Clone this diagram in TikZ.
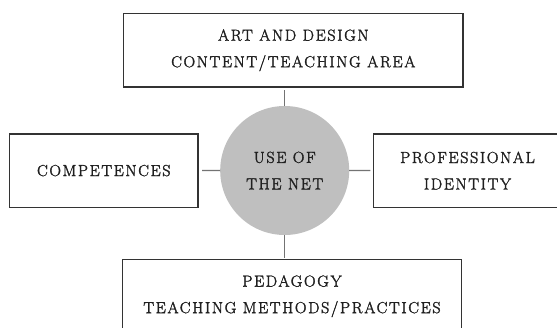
\documentclass[tikz,border=0pt]{standalone}
\usepackage{fontspec}
\newfontfamily\capsfont{Latin Modern Roman}[LetterSpace=10.5,FakeBold=2]
\begin{document}
\begin{tikzpicture}[x=1pt,y=-1pt,
  every node/.style={inner sep=0pt,outer sep=0pt},
  caption text/.style={font=\capsfont\fontsize{16}{26.5}\selectfont,
    align=center,text=black!88},
  topicbox/.style={rectangle,draw=black!80,line width=1.3pt,minimum height=73.5pt,caption text},
  widebox/.style={topicbox,minimum width=339.5pt},
  sidebox/.style={topicbox,minimum width=188.5pt},
  hub/.style={circle,fill=black!25,minimum size=129pt,caption text},
  link/.style={draw=black!55,line width=1.3pt}
]
\useasboundingbox (0,0) rectangle (557,327);
\clip (0,0) rectangle (557,327);

% central hub
\node[hub] (net) at (284.7,170.5) {USE OF\\THE NET};

% surrounding areas
\node[widebox] (content) at (293.3,50.3) {ART AND DESIGN\\CONTENT/TEACHING AREA};
\node[sidebox] (comp) at (103.8,170.6) {COMPETENCES};
\node[sidebox] (ident) at (467.5,170.6) {PROFESSIONAL\\IDENTITY};
\node[widebox] (peda) at (292,296.2) {PEDAGOGY\\TEACHING METHODS/PRACTICES};

% links from the hub
\draw[link,shorten >=3pt] (net.north) -- (net.north |- content.south);
\draw[link,shorten >=4pt] (net.west) -- (comp.east);
\draw[link,shorten >=3pt] (net.east) -- (ident.west);
\draw[link,shorten >=1pt] (net.south) -- (net.south |- peda.north);
\end{tikzpicture}
\end{document}
